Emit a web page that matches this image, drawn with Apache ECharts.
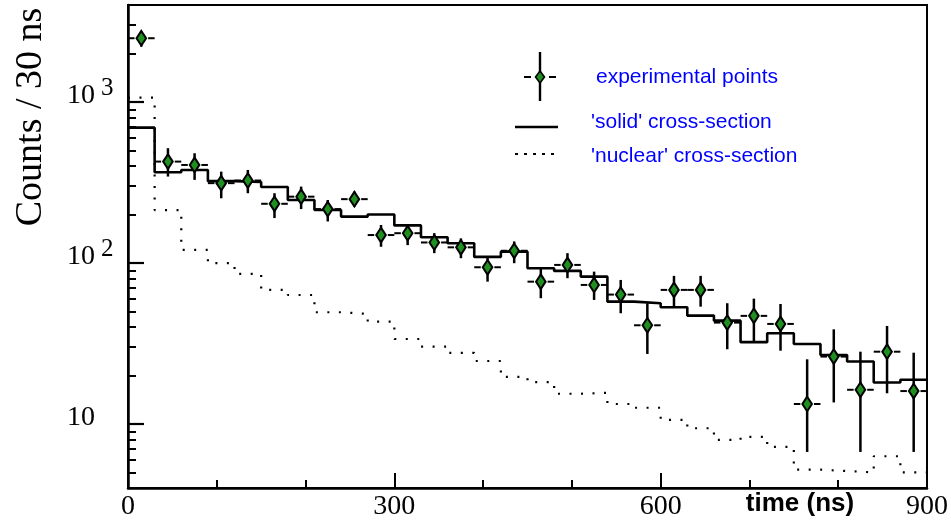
<!DOCTYPE html>
<html>
<head>
<meta charset="utf-8">
<script src="https://cdn.jsdelivr.net/npm/echarts@6/dist/echarts.min.js"></script>
<style>
  html, body { margin: 0; padding: 0; background: #fff; }
  #chart { width: 951px; height: 526px; }
</style>
</head>
<body>
<div id="chart"></div>
<script>
// ---- data ----
const binEdges = [0, 30, 60, 90, 120, 150, 180, 210, 240, 270, 300, 330, 360, 390, 420, 450,
  480, 510, 540, 570, 600, 630, 660, 690, 720, 750, 780, 810, 840, 870, 900];
const solidHist = [692, 366, 378, 322, 318, 296, 246, 213, 194, 200, 171, 144.5, 132.6, 109, 117.5,
  92.7, 89.2, 82.2, 57.5, 56.2, 53.1, 47.1, 43.8, 32.2, 36.6, 31.4, 26.8, 24.4, 18.1, 18.8];
const nuclearHist = [1064, 213, 120.5, 99.6, 85.5, 68, 63.2, 49.4, 48.2, 43.2, 33.7, 30.2, 27.6, 24.6, 19.6,
  18.2, 15.4, 15.6, 13.3, 12.6, 10.6, 9.4, 7.95, 8.3, 7.2, 5.2, 5.1, 5.0, 6.3, 5.0];
const pointTimes = [15, 45, 75, 105, 135, 165, 195, 225, 255, 285, 315, 345, 375, 405, 435,
  465, 495, 525, 555, 585, 615, 645, 675, 705, 735, 765, 795, 825, 855, 885];
const pointCounts = [2487, 426, 406, 313, 325, 233, 258, 216, 249, 149, 153, 134, 125, 94, 119,
  76.5, 97.2, 73, 63.6, 41, 68, 68, 42.6, 46.9, 41.8, 13.3, 26.2, 16.3, 28.1, 16];
const pointLow = [2205, 344, 328, 252, 271, 190, 216, 181, 224, 126, 129, 115, 107, 76.5, 99.6,
  60.4, 80.4, 58.9, 48.7, 27.2, 53.5, 53.5, 29.1, 32.4, 28.5, 6.7, 13.6, 6.7, 15.5, 6.7];
const pointHigh = [2733, 516, 480, 369, 378, 271, 298, 246, 277, 172, 172, 153, 142, 109, 136,
  92.7, 115, 88.3, 78.4, 56.2, 83.1, 83.1, 56.2, 60, 55.6, 25.2, 38.7, 28.1, 40.6, 27.7];
const timeHalfWidth = 15;
const xTickValues = [0, 300, 600, 900];
const yMajorTicks = [10, 100, 1000];
const yMinorTicks = [5, 6, 7, 8, 9, 20, 30, 40, 50, 60, 70, 80, 90,
  200, 300, 400, 500, 600, 700, 800, 900, 2000, 3000];

// ---- build series data ----
function stepData(hist) {
  return binEdges.map((e, i) => [e, hist[Math.min(i, hist.length - 1)]]);
}
const pointData = pointTimes.map((t, i) => [t, pointCounts[i], pointLow[i], pointHigh[i]]);

function renderPoint(params, api) {
  const t = api.value(0), c = api.value(1), lo = api.value(2), hi = api.value(3);
  const p = api.coord([t, c]);
  const pTop = api.coord([t, hi]);
  const pBot = api.coord([t, lo]);
  const pL = api.coord([t - timeHalfWidth, c]);
  const pR = api.coord([t + timeHalfWidth, c]);
  const hw = 4.8, hh = 7.3;
  return {
    type: 'group',
    children: [
      { type: 'line', shape: { x1: p[0], y1: pTop[1], x2: p[0], y2: pBot[1] },
        style: { stroke: '#000', lineWidth: 2.5 } },
      { type: 'line', shape: { x1: pL[0], y1: p[1], x2: p[0] - hw - 2, y2: p[1] },
        style: { stroke: '#000', lineWidth: 2 } },
      { type: 'line', shape: { x1: p[0] + hw + 2, y1: p[1], x2: pR[0], y2: p[1] },
        style: { stroke: '#000', lineWidth: 2 } },
      { type: 'polygon',
        shape: { points: [[p[0], p[1] - hh], [p[0] + hw, p[1]], [p[0], p[1] + hh], [p[0] - hw, p[1]]] },
        style: { fill: '#1f8f1f', stroke: '#000', lineWidth: 2 } }
    ]
  };
}

const serif = '"Liberation Serif", "Times New Roman", serif';
const sans = '"Liberation Sans", Arial, sans-serif';

const chart = echarts.init(document.getElementById('chart'), null, { renderer: 'canvas' });
chart.setOption({
  animation: false,
  backgroundColor: '#fff',
  grid: { left: 128, right: 23, top: 5, bottom: 38, show: true, borderColor: '#000', borderWidth: 2 },
  xAxis: {
    type: 'value', min: 0, max: 900, interval: 300,
    axisLine: { show: true, lineStyle: { color: '#000', width: 2.5 } },
    axisTick: { show: true, inside: true, length: 15, lineStyle: { color: '#000', width: 2 } },
    minorTick: { show: true, splitNumber: 3, length: 8, lineStyle: { color: '#000', width: 2 } },
    axisLabel: {
      color: '#000', fontFamily: serif, fontSize: 28, margin: 5,
      customValues: xTickValues,
      formatter: v => String(v)
    },
    splitLine: { show: false }
  },
  yAxis: [{
    type: 'log', logBase: 10, min: 4, max: 4000,
    axisLine: { show: true, lineStyle: { color: '#000', width: 2.5 } },
    axisTick: { show: true, inside: true, length: 16, customValues: yMajorTicks,
      lineStyle: { color: '#000', width: 2.2 } },
    axisLabel: {
      customValues: yMajorTicks, align: 'left', margin: 61, color: '#000',
      padding: [0, 0, 11, 0],
      formatter: v => {
        const e = Math.round(Math.log10(v));
        return '{b|10}{s|' + (e === 1 ? ' ' : String(e)) + '}';
      },
      rich: {
        b: { fontFamily: serif, fontSize: 28, color: '#000', lineHeight: 26, verticalAlign: 'bottom' },
        s: { fontFamily: serif, fontSize: 25, color: '#000', lineHeight: 26, padding: [0, 0, 15, 6] }
      }
    },
    splitLine: { show: false }
  }, {
    type: 'log', logBase: 10, min: 4, max: 4000, position: 'left',
    axisLine: { show: false },
    axisTick: { show: true, inside: true, length: 8, customValues: yMinorTicks,
      lineStyle: { color: '#000', width: 2 } },
    axisLabel: { show: false },
    splitLine: { show: false }
  }],
  series: [
    {
      name: "'nuclear' cross-section", type: 'line', step: 'end', data: stepData(nuclearHist),
      showSymbol: false, symbol: 'none', z: 2,
      lineStyle: { color: '#000', width: 2.2, type: [2, 9.5] }
    },
    {
      name: "'solid' cross-section", type: 'line', step: 'end', data: stepData(solidHist),
      showSymbol: false, symbol: 'none', z: 3,
      lineStyle: { color: '#000', width: 2.6 }
    },
    {
      name: 'experimental points', type: 'custom', data: pointData, z: 5,
      encode: { x: 0, y: 1 },
      renderItem: renderPoint
    }
  ],
  graphic: [
    { type: 'text', x: 31, y: 117, rotation: Math.PI / 2,
      style: { text: 'Counts / 30 ns', font: '38px ' + serif, fill: '#000', align: 'center', verticalAlign: 'middle' } },
    { type: 'text', x: 800, y: 504,
      style: { text: 'time (ns)', font: 'bold 26px ' + sans, fill: '#000', align: 'center', verticalAlign: 'middle' } },
    // legend
    { type: 'line', shape: { x1: 540, y1: 52, x2: 540, y2: 101 }, style: { stroke: '#000', lineWidth: 2.4 } },
    { type: 'line', shape: { x1: 524, y1: 77, x2: 531, y2: 77 }, style: { stroke: '#000', lineWidth: 2 } },
    { type: 'line', shape: { x1: 549, y1: 77, x2: 556, y2: 77 }, style: { stroke: '#000', lineWidth: 2 } },
    { type: 'polygon', shape: { points: [[540, 71], [544.5, 77], [540, 83], [535.5, 77]] },
      style: { fill: '#1f8f1f', stroke: '#000', lineWidth: 1.6 } },
    { type: 'text', x: 596, y: 77,
      style: { text: 'experimental points', font: '21px ' + sans, fill: '#0000ff', verticalAlign: 'middle' } },
    { type: 'line', shape: { x1: 515, y1: 127, x2: 558, y2: 127 }, style: { stroke: '#000', lineWidth: 2.4 } },
    { type: 'text', x: 591, y: 122,
      style: { text: "'solid' cross-section", font: '21px ' + sans, fill: '#0000ff', verticalAlign: 'middle' } },
    { type: 'line', shape: { x1: 515, y1: 154, x2: 558, y2: 154 },
      style: { stroke: '#000', lineWidth: 2, lineDash: [3, 6] } },
    { type: 'text', x: 591, y: 156,
      style: { text: "'nuclear' cross-section", font: '21px ' + sans, fill: '#0000ff', verticalAlign: 'middle' } }
  ]
});
</script>
</body>
</html>
